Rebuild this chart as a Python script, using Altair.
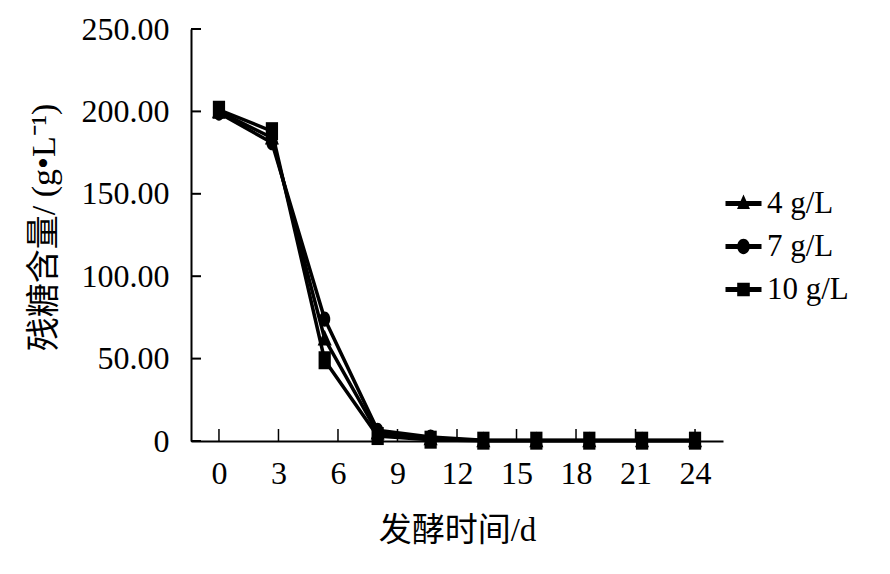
import altair as alt
import pandas as pd

# ---- data ----
days = [0, 2.67, 5.33, 8, 10.67, 13.33, 16, 18.67, 21.33, 24]
series_names = ["4 g/L", "7 g/L", "10 g/L"]
sugar_4 = [200, 184, 62, 5, 1.5, 0.3, 0.3, 0.3, 0.3, 0.3]
sugar_7 = [199, 181, 74, 6.5, 2.4, 0.4, 0.4, 0.4, 0.4, 0.4]
sugar_10 = [201, 188, 49, 3, 0.8, 0.2, 0.2, 0.2, 0.2, 0.2]
x_ticks = [0, 3, 6, 9, 12, 15, 18, 21, 24]
y_ticks = [0, 50, 100, 150, 200, 250]

rows = []
for name, vals in zip(series_names, [sugar_4, sugar_7, sugar_10]):
    for d, v in zip(days, vals):
        rows.append({"day": d, "sugar": v, "series": name})
df = pd.DataFrame(rows)

# marker shapes (vertically stretched like the reference)
marker_paths = [
    "M0,-1L0.78,0.75L-0.78,0.75Z",
    "M0.62,0A0.62,0.85,0,1,1,-0.62,0A0.62,0.85,0,1,1,0.62,0Z",
    "M-0.68,-1H0.68V1H-0.68Z",
]
line_part = "M-2,-0.28H2V0.28H-2Z"
legend_paths = [line_part + p for p in [
    "M0,-1L0.72,0.6L-0.72,0.6Z",
    "M0.7,0A0.7,0.85,0,1,1,-0.7,0A0.7,0.85,0,1,1,0.7,0Z",
    "M-0.7,-0.75H0.7V0.75H-0.7Z",
]]

FONT = "Liberation Serif, Noto Sans CJK SC"
X_DOMAIN = [-1.41, 25.41]

x_enc = alt.X("day:Q", scale=alt.Scale(domain=X_DOMAIN, nice=False, zero=False),
              axis=alt.Axis(values=x_ticks, ticks=False, grid=False, labelPadding=17,
                            labelFontSize=32, labelFont=FONT, labelColor="black",
                            domainColor="black", domainWidth=2,
                            title="发酵时间/d", titleFontSize=33, titleFont=FONT,
                            titleFontWeight="normal", titleColor="black", titlePadding=25))
y_enc = alt.Y("sugar:Q", scale=alt.Scale(domain=[0, 250], nice=False),
              axis=alt.Axis(values=y_ticks, ticks=False, grid=False, labelPadding=22,
                            labelExpr="datum.value == 0 ? '0' : format(datum.value, '.2f')",
                            labelFontSize=32, labelFont=FONT, labelColor="black",
                            domainColor="black", domainWidth=2,
                            title="残糖含量/ (g•L⁻¹)", titleFontSize=34, titleFont=FONT,
                            titleFontWeight="normal", titleColor="black", titlePadding=20,
                            titleY=198))

base = alt.Chart(df)

lines = base.mark_line(color="black", strokeWidth=3.5).encode(
    x=x_enc, y=y_enc,
    detail="series:N",
    order="day:Q",
)

points = base.mark_point(filled=True, color="black", opacity=1, size=324).encode(
    x=x_enc, y=y_enc,
    shape=alt.Shape("series:N", sort=series_names,
                    scale=alt.Scale(domain=series_names, range=marker_paths), legend=None),
)

legend_layer = base.mark_point(filled=True, color="black", opacity=1, size=324, clip=True).encode(
    x=alt.value(-200), y=alt.value(-200),
    shape=alt.Shape("series:N", sort=series_names,
                    scale=alt.Scale(domain=series_names, range=legend_paths),
                    legend=alt.Legend(title=None, orient="none", legendX=537, legendY=159,
                                      labelFontSize=31, labelFont=FONT, labelColor="black",
                                      symbolSize=324, symbolFillColor="black",
                                      symbolStrokeWidth=0, labelOffset=8, rowPadding=11)),
)

# inward tick marks (positions come from the scales)
yt = alt.Chart(pd.DataFrame({"t": y_ticks})).mark_rule(color="black", strokeWidth=2).encode(
    y=alt.Y("t:Q", scale=alt.Scale(domain=[0, 250], nice=False)),
    x=alt.value(0), x2=alt.value(10))
xt = alt.Chart(pd.DataFrame({"t": x_ticks})).mark_rule(color="black", strokeWidth=1.5).encode(
    x=alt.X("t:Q", scale=alt.Scale(domain=X_DOMAIN, nice=False, zero=False)),
    y=alt.value(412), y2=alt.value(400))

chart = alt.layer(yt, xt, lines, points, legend_layer).resolve_scale(
    shape="independent"
).properties(
    width=532, height=412,
    background="white",
    autosize=alt.AutoSizeParams(type="none"),
    padding={"left": 183, "top": 21, "right": 150, "bottom": 120},
).configure_view(stroke=None)

chart.save("out.html", embed_options={"renderer": "svg", "actions": False})
